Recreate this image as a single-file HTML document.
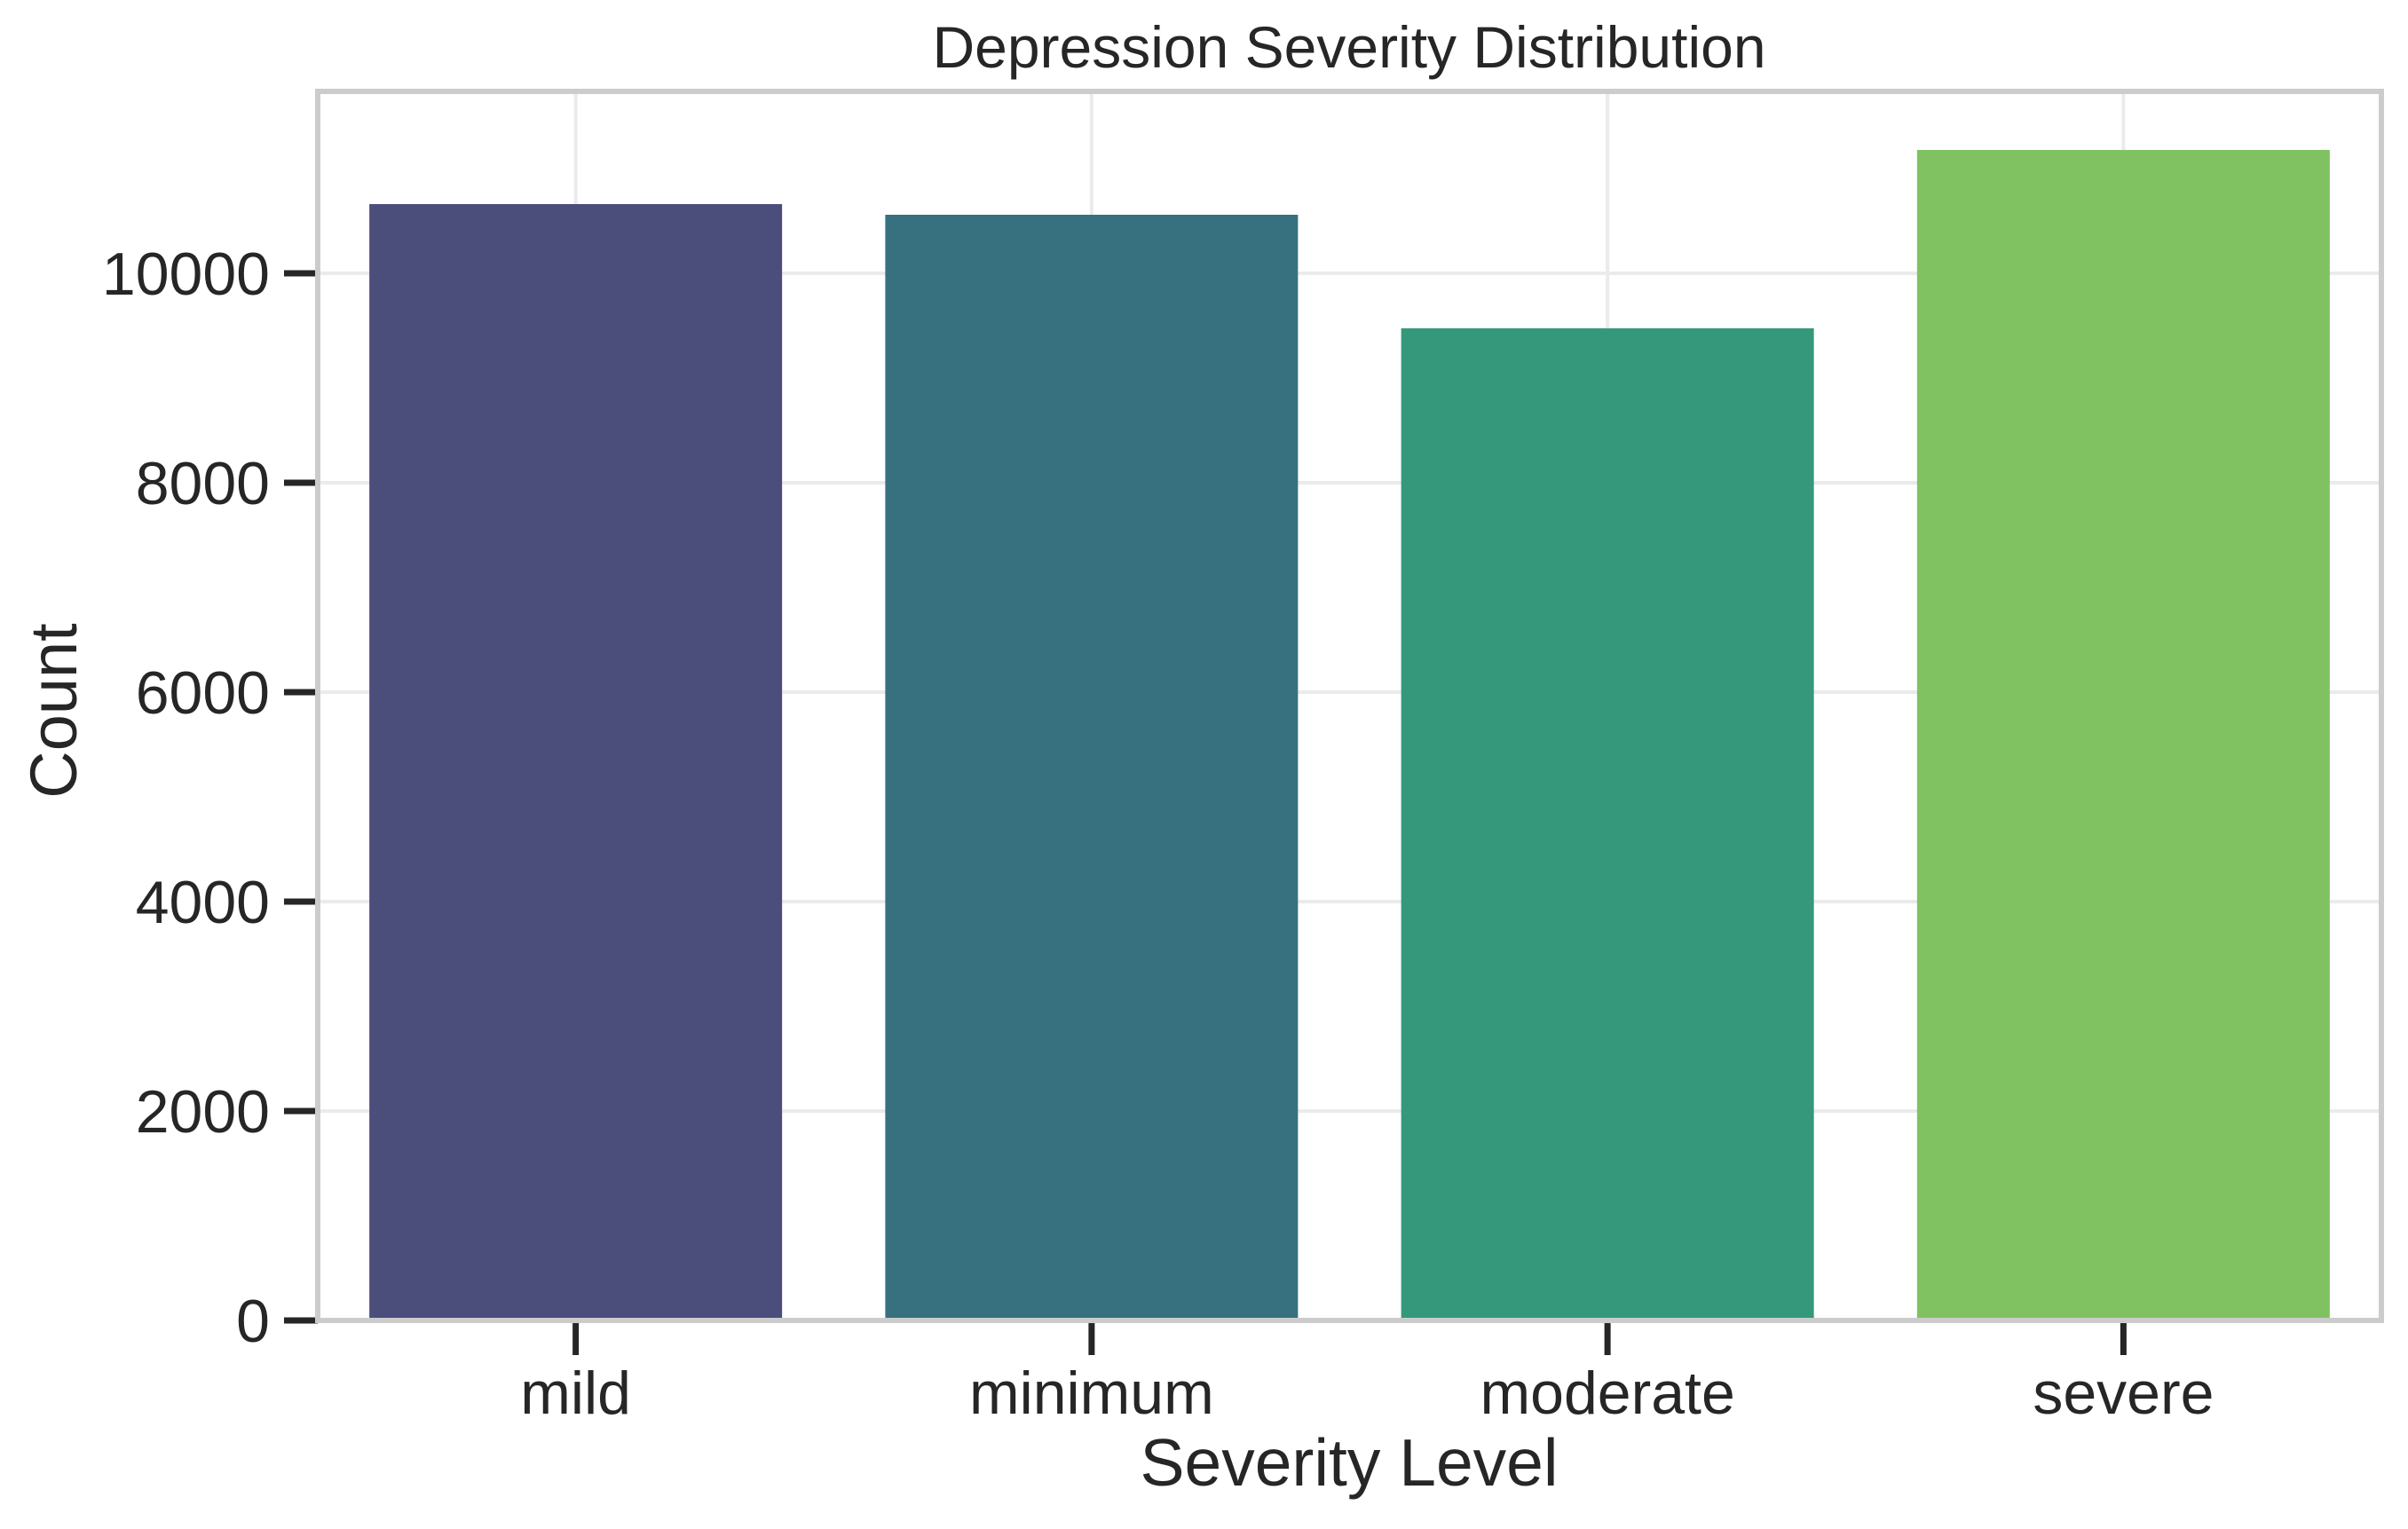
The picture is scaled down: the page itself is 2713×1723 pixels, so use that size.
<!DOCTYPE html>
<html><head><meta charset="utf-8"><style>
html,body{margin:0;padding:0;background:#fff;}
svg{display:block;font-family:"Liberation Sans",Arial,sans-serif;}
</style></head><body>
<svg id="chart" width="2713" height="1723" viewBox="0 0 2713 1723" xmlns="http://www.w3.org/2000/svg">
<rect width="2713" height="1723" fill="#fff"/>
<g id="grid"></g>
<g id="bars"></g>
<g id="axes"></g>
<text x="1520" y="76" font-size="66" fill="#262626" text-anchor="middle">Depression Severity Distribution</text>
<text x="1520" y="1674" font-size="75" fill="#262626" text-anchor="middle">Severity Level</text>
<text transform="translate(86,801) rotate(-90)" font-size="74" fill="#262626" text-anchor="middle">Count</text>
</svg>
<script>
const categories = ["mild","minimum","moderate","severe"];
const counts = [10661, 10559, 9475, 11178];
const colors = ["#4b4d7b","#37717f","#35987b","#80c262"];
const yTicks = [0,2000,4000,6000,8000,10000];
const yTickLabels = ["0","2000","4000","6000","8000","10000"];

const L=358,R=2683,T=103,B=1488,yMax=11737;
const NS="http://www.w3.org/2000/svg";
const step=(R-L)/categories.length;
function xC(i){return L+step*(i+0.5);}
function yS(v){return B-(v/yMax)*(B-T);}
function mk(tag,attrs,parent){const e=document.createElementNS(NS,tag);for(const k in attrs)e.setAttribute(k,attrs[k]);document.getElementById(parent).appendChild(e);return e;}

yTicks.forEach((v,i)=>{
  const g=mk("line",{x1:L,x2:R,y1:yS(v),y2:yS(v),stroke:"#ebebeb","stroke-width":4},"grid");
  
  
  const t=mk("line",{x1:320,x2:358,y1:yS(v),y2:yS(v),stroke:"#262626","stroke-width":7},"axes");
  
  
  const l=mk("text",{x:304,y:yS(v)+24,"font-size":68,fill:"#262626","text-anchor":"end"},"axes");
  l.textContent=yTickLabels[i];
  
  
});
categories.forEach((c,i)=>{
  const g=mk("line",{x1:xC(i),x2:xC(i),y1:T,y2:B,stroke:"#ebebeb","stroke-width":4},"grid");
  
  
  const w=step*0.8;
  const b=mk("rect",{x:xC(i)-w/2,y:yS(counts[i]),width:w,height:B-yS(counts[i]),fill:colors[i]},"bars");
  
  
  const t=mk("line",{x1:xC(i),x2:xC(i),y1:B,y2:1527,stroke:"#262626","stroke-width":7},"axes");
  
  
  const l=mk("text",{x:xC(i),y:1593,"font-size":68,fill:"#262626","text-anchor":"middle"},"axes");
  l.textContent=c;
  
  
});
const f=mk("rect",{x:L,y:T,width:R-L,height:B-T,fill:"none",stroke:"#cccccc","stroke-width":6},"axes");


</script>
</body></html>
